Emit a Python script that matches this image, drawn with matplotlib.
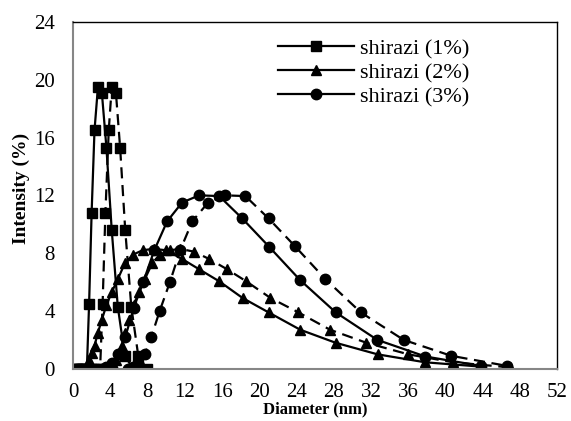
import matplotlib
matplotlib.use("Agg")
import matplotlib.pyplot as plt

plt.rcParams['font.family'] = ['Liberation Serif', 'DejaVu Serif']

############################### Data ######################################
# shirazi (1%) - squares
sq_x = [0.4, 0.46, 0.53, 0.62, 0.71, 0.83, 0.96, 1.11, 1.28, 1.48, 1.72, 1.99, 2.30, 2.67, 3.09, 3.58, 4.15, 4.80, 5.56, 6.44]
sq_y = [0, 0, 0, 0, 0, 0, 0, 0, 0, 0, 4.5, 10.8, 16.5, 19.5, 19.1, 15.3, 9.6, 4.3, 0.9, 0]
sq_x2 = [1.9, 2.2, 2.5, 2.9, 3.17, 3.47, 3.83, 4.15, 4.6, 5.05, 5.6, 6.25, 7.0, 7.9]
sq_y2 = [0, 0, 0, 0, 4.5, 10.8, 16.5, 19.5, 19.1, 15.3, 9.6, 4.3, 0.9, 0]

# shirazi (2%) - triangles
tr_x = [0.4, 0.53, 0.71, 0.96, 1.28, 1.48, 1.72, 1.99, 2.30, 2.67, 3.09, 3.58, 4.15, 4.80, 5.56, 6.44,
        7.46, 8.64, 10.0, 11.7, 13.5, 15.7, 18.2, 21.0, 24.4, 28.2, 32.7, 37.8, 43.8]
tr_y = [0, 0, 0, 0, 0, 0.2, 0.6, 1.1, 1.6, 2.5, 3.4, 4.4, 5.3, 6.2, 7.3, 7.9,
        8.2, 8.3, 8.2, 7.6, 6.9, 6.05, 4.9, 3.9, 2.7, 1.8, 1.0, 0.45, 0.15]
tr_x2 = [3.3, 3.9, 4.4, 4.6, 4.9, 5.2, 5.6, 6.0, 6.5, 7.05, 7.7, 8.5, 9.3,
         10.4, 11.5, 13.0, 14.6, 16.5, 18.6, 21.2, 24.2, 27.6, 31.5, 36.0, 40.8, 46.9]
tr_y2 = [0, 0, 0.2, 0.6, 1.1, 1.6, 2.5, 3.4, 4.4, 5.3, 6.2, 7.3, 7.9,
         8.2, 8.3, 8.1, 7.6, 6.9, 6.05, 4.9, 3.9, 2.7, 1.8, 1.0, 0.45, 0.1]

# shirazi (3%) - circles
ci_x = [3.09, 3.58, 4.15, 4.85, 5.61, 6.50, 7.53, 8.72, 10.1, 11.7, 13.54, 15.69, 18.17,
        21.04, 24.36, 28.21, 32.67, 37.84, 43.82]
ci_y = [0, 0.1, 0.4, 1.0, 2.2, 4.2, 6.0, 8.2, 10.2, 11.5, 12.0, 11.95, 10.4,
        8.45, 6.15, 3.9, 2.0, 0.85, 0.2]
ci_x2 = [5.9, 6.4, 7.0, 7.7, 8.4, 9.3, 10.4, 11.5, 12.8, 14.5, 16.3, 18.5, 21.0,
         23.8, 27.1, 30.9, 35.5, 40.6, 46.6]
ci_y2 = [0, 0.1, 0.4, 1.0, 2.2, 4.0, 6.0, 8.2, 10.2, 11.5, 12.0, 11.95, 10.4,
         8.5, 6.2, 3.9, 2.0, 0.9, 0.2]

labels = ['shirazi (1%)', 'shirazi (2%)', 'shirazi (3%)']
x_ticks = list(range(0, 53, 4))
y_ticks = list(range(0, 25, 4))

############################### Plot ######################################
fig = plt.figure(figsize=(5.71, 4.21), dpi=100)
ax = fig.add_axes([0.128, 0.124, 0.848, 0.824])

ms = 7.0
lw = 1.6
dash = (5, 3)

# dashed replicates (no legend entry)
ax.plot(sq_x2, sq_y2, color='black', lw=lw, dashes=dash, marker='s', ms=ms)
ax.plot(tr_x2, tr_y2, color='black', lw=lw, dashes=dash, marker='^', ms=ms + 0.5)
ax.plot(ci_x2, ci_y2, color='black', lw=lw, dashes=dash, marker='o', ms=ms + 0.5)

# solid series
ax.plot(sq_x, sq_y, color='black', lw=lw, marker='s', ms=ms, label=labels[0])
ax.plot(tr_x, tr_y, color='black', lw=lw, marker='^', ms=ms + 0.5, label=labels[1])
ax.plot(ci_x, ci_y, color='black', lw=lw, marker='o', ms=ms + 0.5, label=labels[2])

ax.set_xlim(0, 52)
ax.set_ylim(0, 24)
ax.set_xticks(x_ticks)
ax.set_yticks(y_ticks)
ax.tick_params(length=0, labelsize=15)
ax.tick_params(axis='x', pad=10)
ax.tick_params(axis='y', pad=13)

for side in ['top', 'right']:
    ax.spines[side].set_color('black')
    ax.spines[side].set_linewidth(1.0)
for side in ['left', 'bottom']:
    ax.spines[side].set_color('#868686')
    ax.spines[side].set_linewidth(1.5)

ax.set_xlabel('Diameter (nm)', fontsize=12, fontweight='bold', labelpad=0)
ax.set_ylabel('Intensity (%)', fontsize=14, fontweight='bold')
ax.yaxis.set_label_coords(-0.088, 0.52)

leg = ax.legend(loc='upper left', bbox_to_anchor=(0.46, 0.945), bbox_transform=fig.transFigure,
                frameon=False, fontsize=16, handlelength=3.4, handletextpad=0.3,
                labelspacing=0.15, borderpad=0.2)

fig.savefig('out.png', dpi=100)
